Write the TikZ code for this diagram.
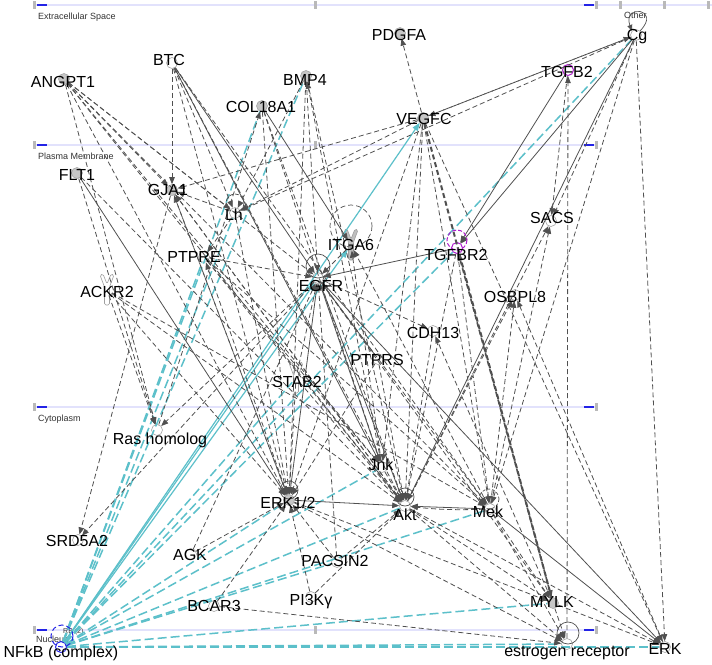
\documentclass[tikz,border=0pt]{standalone}
\usepackage{fontspec}
\setmainfont{Liberation Sans}
\usetikzlibrary{arrows.meta}
\definecolor{ln}{RGB}{80,80,80}
\definecolor{cy}{RGB}{92,192,202}
\definecolor{lanec}{RGB}{226,226,252}
\definecolor{tickc}{RGB}{35,35,230}
\definecolor{mag}{RGB}{175,30,205}
\newcommand\recepY[3]{\draw[draw=gray!75, line width=0.6pt, fill=#3, rounded corners=1.5pt, shift={(#1,#2)}] (-7,-15) -- (-2.5,-3) -- (-2.5,15) -- (2.5,15) -- (2.5,-3) -- (7,-15) -- (4,-16) -- (0,-6) -- (-4,-16) -- cycle;}
\begin{document}
\begin{tikzpicture}[x=1pt,y=-1pt,
  arr/.style={-{Triangle[length=7pt,width=5.5pt]}},
  dsh/.style={ln, line width=0.8pt, dash pattern=on 5pt off 3pt, arr},
  sol/.style={ln, line width=0.8pt, arr},
  cyd/.style={cy, line width=1.5pt, dash pattern=on 9pt off 4pt},
  cys/.style={cy, line width=1.2pt, -{Triangle[length=8pt,width=6pt]}},
  gl/.style={circle, draw=gray!70, line width=0.6pt, fill=white, inner sep=0pt, minimum size=11pt},
  gf/.style={gl, fill=gray!45},
  gn/.style={circle, inner sep=0pt, minimum size=11pt},
  lab/.style={font=\fontsize{16}{18}\selectfont, inner sep=0pt, anchor=base},
  lanelab/.style={font=\fontsize{9}{10}\selectfont, text=black!80, inner sep=0pt, anchor=west}
]
\useasboundingbox (0,0) rectangle (712,664);
\fill[white] (0,0) rectangle (712,664);
% lanes
\draw[lanec, line width=1.3pt] (34,5) -- (712,5);
\foreach \y in {145,407,630} \draw[lanec, line width=1.3pt] (34,\y) -- (597,\y);
\foreach \y in {5,145,407,630} {
  \draw[tickc, line width=1.3pt] (37,\y) -- (47,\y);
  \draw[tickc, line width=1.3pt] (584,\y) -- (594,\y);
  \fill[gray!55] (33,\y-4) rectangle (36,\y+4);
  \fill[gray!55] (595,\y-4) rectangle (598,\y+4);
}
\foreach \x/\y in {315/5,315/145,315/630,620/5,664/5,708/5}
  \fill[gray!55] (\x-1.5,\y-4) rectangle (\x+1.5,\y+4);
\node[lanelab] (lExt) at (38,17) {Extracellular Space};
\node[lanelab] (lPM) at (38,156) {Plasma Membrane};
\node[lanelab] (lCyt) at (38,419) {Cytoplasm};
\node[lanelab] (lNuc) at (36,639) {Nucleus};
\node[lanelab] (lOth) at (624,15) {Other};
\node[lanelab, font=\fontsize{7}{8}\selectfont] (lRB) at (63,632) {RB (2)};

% glyph nodes
\node[gf] (angpt) at (64,79) {};
\node[gl] (btc) at (172,63) {};
\node[gf] (bmp) at (306,76) {};
\node[gf] (col) at (262,106) {};
\node[gf] (pdgfa) at (400,33) {};
\node[gf] (vegfc) at (423,118) {};
\node[gl, draw=mag, line width=1pt] (tgfb) at (568,70) {};
\node[gl] (cg) at (636,35) {};
\node[gf] (flt) at (77,173) {};
\node[gf] (gja) at (172,190) {};
\node[gl] (lh) at (235,213) {};
\node[gl] (sacs) at (551,221) {};
\node[gn] (itga) at (351,245) {};
\node[gl, draw=mag, line width=1pt] (tgfbr) at (457,248) {};
\node[gl] (ptpre) at (204,257) {};
\node[gl] (egfr) at (318,278) {};
\node[gn] (ackr) at (107,290) {};
\node[gl] (osbpl) at (515,295) {};
\node[gl] (cdh) at (433,331) {};
\node[gl] (ptprs) at (378,359) {};
\node[gn] (stab) at (296,378) {};
\node[gl] (ras) at (157,430) {};
\node[gl] (jnk) at (382,467) {};
\node[gf] (erkk) at (289,500) {};
\node[gl] (akt) at (405,506) {};
\node[gl] (mek) at (490,509) {};
\node[gl] (srd) at (78,540) {};
\node[gl] (agk) at (191,554) {};
\node[gl] (pacsin) at (337,562) {};
\node[gl] (bcar) at (214,606) {};
\node[gl] (pik) at (311,597) {};
\node[gf] (mylk) at (553,603) {};
\node[gl, draw=tickc, line width=1pt] (nfkb) at (61,647) {};
\node[gl] (esr) at (567,644) {};
\node[gl] (erk) at (665,647) {};

% receptor glyphs
\recepY{351}{245}{gray!50}
\recepY{107}{290}{white}
\recepY{296}{378}{white}

% cyan edges
\foreach \b in {bmp,col,lh,ptpre,tgfbr,cg,jnk,erkk,akt,mek,pacsin,mylk,esr,stab}
  \draw[cyd] (nfkb) -- (\b);
\draw[cyd, line width=2.2pt] (nfkb) -- (erk);
\foreach \b in {vegfc,egfr,itga}
  \draw[cys] (nfkb) -- (\b);

% dashed gray edges
\foreach \a/\b in {angpt/gja, angpt/lh, angpt/egfr, angpt/ras, angpt/erkk, angpt/akt, angpt/jnk, angpt/mek,
  btc/erkk, btc/akt, btc/lh, btc/gja, btc/mek,
  bmp/lh, bmp/egfr, bmp/erkk, jnk/bmp, bmp/akt,
  col/akt, col/jnk, ras/col, col/erkk,
  vegfc/pdgfa, vegfc/lh, cg/lh, cg/vegfc, vegfc/cg, vegfc/gja, vegfc/mek, vegfc/akt, vegfc/erkk, vegfc/erk, vegfc/jnk,
  cg/sacs, cg/mek, cg/erk, esr/tgfb, tgfb/sacs,
  itga/egfr, jnk/itga, mek/itga,
  ptpre/egfr, lh/ptpre, erkk/ptpre, ptpre/akt, ptpre/mek, ptpre/jnk,
  lh/gja, erkk/gja, akt/gja,
  flt/ras, flt/akt,
  ackr/ras, ackr/erkk, ackr/akt, ackr/mek,
  egfr/ras, egfr/srd, gja/srd, agk/egfr, egfr/mek, egfr/mylk, egfr/cdh,
  agk/erkk, bcar/erkk, bcar/esr, pik/erkk, pik/akt, pacsin/erkk, pacsin/akt, pacsin/egfr,
  akt/osbpl, mek/osbpl, erk/osbpl, akt/sacs, mek/sacs,
  mylk/cdh, cdh/akt,
  jnk/akt, akt/mylk, akt/esr, akt/erk, mek/mylk, mek/esr, mylk/esr, mylk/erk, erkk/mylk, erkk/esr,
  stab/erkk, stab/akt, stab/egfr, ptprs/akt, ptprs/erkk, tgfbr/mek, tgfbr/akt, gja/erkk, gja/akt, lh/erkk}
  \draw[dsh] (\a) -- (\b);
\draw[dsh] (mek) to[bend left=4] (akt);
\draw[dsh, line width=2pt] (vegfc) -- (mylk);
\draw[dsh, line width=1.6pt] (mylk) -- (tgfbr);

% solid gray edges
\foreach \a/\b in {btc/egfr, tgfbr/egfr, cg/tgfbr, tgfb/tgfbr, flt/erkk, egfr/jnk, egfr/akt, egfr/erkk,
  erkk/akt, mek/akt, egfr/erk, ptprs/egfr, col/itga, cg/akt, btc/jnk, mek/erk}
  \draw[sol] (\a) -- (\b);

% self loops
\draw[ln, line width=0.7pt, dash pattern=on 4pt off 2pt] (235,203) circle (9);
\draw[ln, line width=0.7pt] (318,266) circle (12);
\draw[ln, line width=0.7pt, dash pattern=on 5pt off 3pt] (351,226) circle (21);
\draw[mag, line width=1pt, dash pattern=on 4pt off 2pt] (457,240) circle (10);
\draw[ln, line width=0.7pt] (405,497) circle (9);
\draw[ln, line width=0.7pt, dash pattern=on 3pt off 2pt] (489,499) circle (10);
\draw[ln, line width=0.7pt] (289,490) circle (9);
\draw[ln, line width=0.7pt] (568,633) circle (11);
\draw[tickc, line width=1pt, dash pattern=on 5pt off 3pt] (62,636) circle (11);
\draw[ln, line width=0.7pt, -{Triangle[length=6pt,width=5pt]}] (cg.north east) .. controls (662,8) and (622,4) .. (cg.north west);

% labels
\node[lab] (tANGPT1) at (63,87) {ANGPT1};
\node[lab] (tBTC) at (169,65) {BTC};
\node[lab] (tBMP4) at (305,85) {BMP4};
\node[lab] (tCOL) at (261,112) {COL18A1};
\node[lab] (tPDGFA) at (399,40) {PDGFA};
\node[lab] (tVEGFC) at (424,124) {VEGFC};
\node[lab] (tTGFB2) at (567,77) {TGFB2};
\node[lab] (tCg) at (637,40) {Cg};
\node[lab] (tFLT1) at (77,180) {FLT1};
\node[lab] (tGJA1) at (168,195) {GJA1};
\node[lab] (tLh) at (234,220) {Lh};
\node[lab] (tSACS) at (552,223) {SACS};
\node[lab] (tITGA6) at (351,250) {ITGA6};
\node[lab] (tTGFBR2) at (456,260) {TGFBR2};
\node[lab] (tPTPRE) at (194,262) {PTPRE};
\node[lab] (tEGFR) at (321,291) {EGFR};
\node[lab] (tACKR2) at (107,297) {ACKR2};
\node[lab] (tOSBPL8) at (515,302) {OSBPL8};
\node[lab] (tCDH13) at (433,338) {CDH13};
\node[lab] (tPTPRS) at (377,365) {PTPRS};
\node[lab] (tSTAB2) at (297,387) {STAB2};
\node[lab] (tRas) at (160,444) {Ras homolog};
\node[lab] (tJnk) at (381,470) {Jnk};
\node[lab] (tERK12) at (288,508) {ERK1/2};
\node[lab] (tAkt) at (405,520) {Akt};
\node[lab] (tMek) at (488,517) {Mek};
\node[lab] (tSRD) at (77,546) {SRD5A2};
\node[lab] (tAGK) at (190,560) {AGK};
\node[lab] (tPACSIN2) at (335,566) {PACSIN2};
\node[lab] (tBCAR3) at (214,611) {BCAR3};
\node[lab] (tPI3K) at (311,605) {PI3Kγ};
\node[lab] (tMYLK) at (552,607) {MYLK};
\node[lab] (tNFkB) at (61,657) {NFkB (complex)};
\node[lab] (tESR) at (567,656) {estrogen receptor};
\node[lab] (tERK) at (665,654) {ERK};
\end{tikzpicture}
\end{document}
